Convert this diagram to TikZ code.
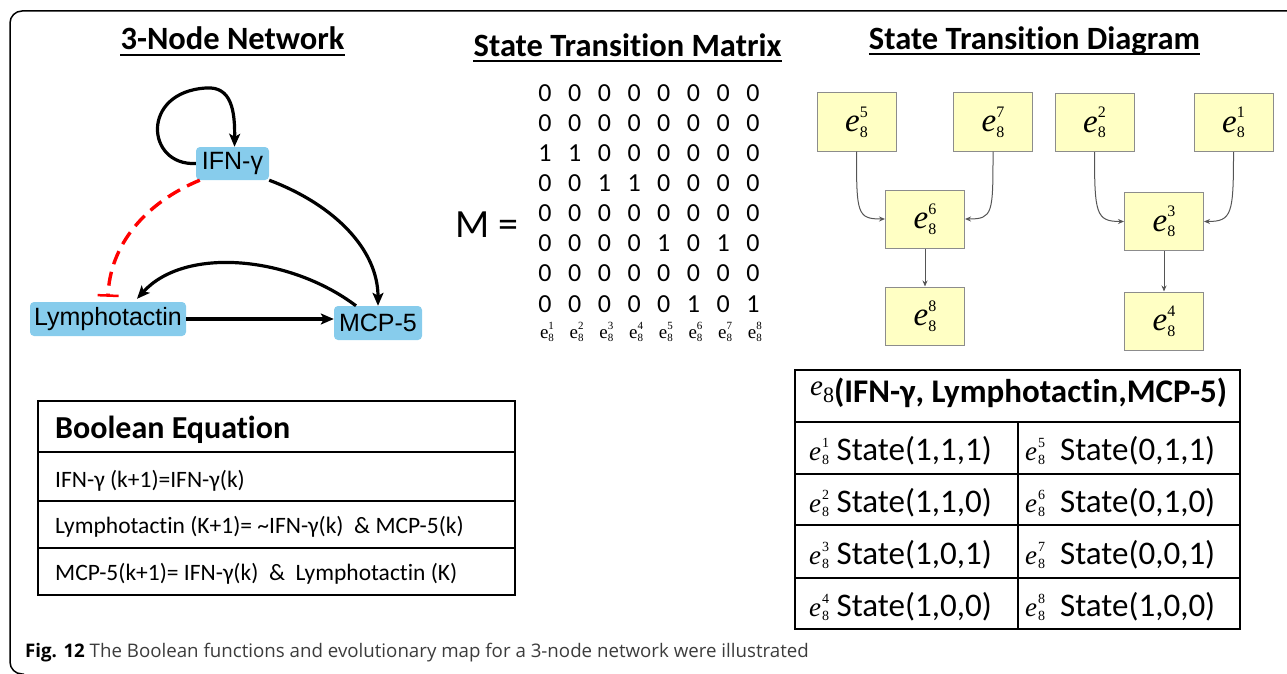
\documentclass[tikz,border=0pt]{standalone}
\usepackage{fontspec}
\setmainfont{Carlito}[Ligatures=NoCommon]
\newfontfamily\arialf{Liberation Sans}
\newfontfamily\timesf{Liberation Serif}
\newfontfamily\capf{Open Sans}
\usetikzlibrary{arrows.meta,calc}

\definecolor{netblue}{RGB}{135,204,236}
\definecolor{stfill}{RGB}{255,255,196}
\definecolor{stdraw}{RGB}{140,140,140}
\definecolor{stedge}{RGB}{85,85,85}
\definecolor{captext}{RGB}{60,60,60}

\newcommand\fs[1]{\fontsize{#1}{#1}\selectfont}
% state vector symbol e_8^k: #1 size of e, #2 size of indices, #3 upper index
\newcommand\ek[3]{{\fs{#1}\timesf\itshape e}\kern.03em{\fs{#2}\timesf\makebox[0pt][l]{\raisebox{.9em}{#3}}\raisebox{-.33em}{8}}}
% upright variant used under the matrix columns
\newcommand\eku[3]{{\fs{#1}\timesf e}{\fs{#2}\timesf\makebox[0pt][l]{\raisebox{.75em}{#3}}\raisebox{-.3em}{8}}}

\begin{document}
\begin{tikzpicture}[x=1pt,y=-1pt,
  netnode/.style={fill=netblue,rounded corners=4pt,inner sep=0pt,font=\fs{25}\arialf},
  netarrow/.style={line width=3.2pt,-{Stealth[length=13pt,width=11pt,inset=3pt]}},
  inhibit/.style={red,line width=3.4pt,dash pattern=on 14pt off 8pt,-{Bar[width=21pt,line width=2.5pt]}},
  title/.style={font=\fs{32.5}\bfseries,inner sep=0pt,anchor=base},
  uline/.style={line width=1.8pt},
  mcell/.style={font=\fs{26},inner sep=0pt},
  sbox/.style={draw=stdraw,fill=stfill,line width=1pt,minimum width=79pt,minimum height=58pt,inner sep=0pt},
  sarrow/.style={draw=stedge,line width=1pt,-{Stealth[length=6pt,width=5pt]}},
  tabline/.style={line width=1.8pt},
  eqtext/.style={font=\fs{23.5},inner sep=0pt,anchor=base west},
  celltext/.style={font=\fs{33},inner sep=0pt,anchor=base west},
]
\useasboundingbox (0,0) rectangle (1287,674);

% open frame
\draw[line width=1.5pt,rounded corners=12pt] (1287,11) -- (10,11) -- (10,674) -- (24,674);

% ---------- 3-node network ----------
\node[title] (t1) at (232.5,50) {3-Node Network};
\draw[uline] ($(t1.base west)+(0,5)$) -- ($(t1.base east)+(0,5)$);

\node[netnode,minimum width=73pt,minimum height=33pt] (ifn) at (232.5,163.5) {IFN-γ};
\node[netnode,minimum width=156pt,minimum height=34pt] (lym) at (108,319) {Lymphotactin};
\node[netnode,minimum width=88pt,minimum height=34pt] (mcp) at (378,323) {MCP-5};

\draw[netarrow] (ifn.west) .. controls (146,166) and (140,92) .. (206,88)
  .. controls (232,86) and (235,112) .. ($(ifn.north)+(2,0)$);
\draw[inhibit] ($(ifn.south west)+(4,0)$) .. controls (145,203) and (110,245) .. ($(lym.north)+(0,-5)$);
\draw[netarrow] (ifn.south east) .. controls (335,205) and (378,250) .. (mcp.north);
\draw[netarrow] ($(mcp.north)+(-22,0)$) .. controls (290,256) and (185,246) .. ($(lym.north)+(29,-3)$);
\draw[netarrow] (lym.east) -- (mcp.west |- lym.east);

% ---------- state transition matrix ----------
\node[title] (t2) at (627.5,57) {State Transition Matrix};
\draw[uline] ($(t2.base west)+(0,4)$) -- ($(t2.base east)+(0,4)$);

\node[font=\fs{40},inner sep=0pt] (M) at (487,225) {M =};
\foreach \row [count=\r] in {{0,0,0,0,0,0,0,0},{0,0,0,0,0,0,0,0},{1,1,0,0,0,0,0,0},{0,0,1,1,0,0,0,0},{0,0,0,0,0,0,0,0},{0,0,0,0,1,0,1,0},{0,0,0,0,0,0,0,0},{0,0,0,0,0,1,0,1}}{
  \foreach \v [count=\c] in \row {
    \node[mcell] (m\r-\c) at ({545+(\c-1)*29.7},{93+(\r-1)*30.1}) {\v};
  }
}
\foreach \k in {1,...,8}{
  \node[inner sep=0pt] (lab\k) at ({547+(\k-1)*29.7},332) {\eku{19}{11}{\k}};
}

% ---------- state transition diagram ----------
\node[title] (t3) at (1034.5,50) {State Transition Diagram};
\draw[uline] ($(t3.base west)+(0,4)$) -- ($(t3.base east)+(0,4)$);

\node[sbox] (s5) at (856.5,122) {\ek{33}{16}{5}};
\node[sbox] (s7) at (993,122) {\ek{33}{16}{7}};
\node[sbox] (s2) at (1094.5,122.5) {\ek{33}{16}{2}};
\node[sbox] (s1) at (1233.5,122.5) {\ek{33}{16}{1}};
\node[sbox] (s6) at (925,219) {\ek{33}{16}{6}};
\node[sbox] (s3) at (1164,221.5) {\ek{33}{16}{3}};
\node[sbox] (s8) at (925,316) {\ek{33}{16}{8}};
\node[sbox] (s4) at (1164,321) {\ek{33}{16}{4}};

\draw[sarrow] (s5.south) .. controls +(0,62) and +(-28,0) .. (s6.west);
\draw[sarrow] (s7.south) .. controls +(0,62) and +(28,0) .. (s6.east);
\draw[sarrow] (s6.south) -- (s8.north);
\draw[sarrow] (s2.south) .. controls +(0,62) and +(-28,0) .. (s3.west);
\draw[sarrow] (s1.south) .. controls +(0,62) and +(28,0) .. (s3.east);
\draw[sarrow] (s3.south) -- (s4.north);

% ---------- Boolean equation table ----------
\draw[tabline] (38,401) rectangle (515,595);
\draw[tabline] (38,452) -- (515,452);
\draw[tabline] (38,501) -- (515,501);
\draw[tabline] (38,548) -- (515,548);
\node[inner sep=0pt,anchor=base west,font=\fs{32}\bfseries] (beqh) at (55,438) {Boolean Equation};
\node[eqtext] (beq1) at (55,487) {IFN-γ (k+1)=IFN-γ(k)};
\node[eqtext] (beq2) at (55,533) {Lymphotactin (K+1)= \textasciitilde IFN-γ(k)\ \ \& MCP-5(k)};
\node[eqtext] (beq3) at (55,580) {MCP-5(k+1)= IFN-γ(k)\ \ \&\ \ Lymphotactin (K)};

% ---------- state coding table ----------
\draw[tabline] (795,370) rectangle (1240,629);
\foreach \yy in {422,474,525,578} \draw[tabline] (795,\yy) -- (1240,\yy);
\draw[tabline] (1018,422) -- (1018,629);

\node[inner sep=0pt,anchor=base west] (sth) at (810,402)
  {\raisebox{7pt}{\fs{29}\timesf\itshape e}{\fs{22}\timesf 8}{\fs{33}\bfseries(IFN-γ, Lymphotactin,MCP-5)}};

\node[celltext] (c1) at (809,460) {\ek{27}{14}{1} State(1,1,1)};
\node[celltext] (c2) at (809,512) {\ek{27}{14}{2} State(1,1,0)};
\node[celltext] (c3) at (809,564) {\ek{27}{14}{3} State(1,0,1)};
\node[celltext] (c4) at (809,616) {\ek{27}{14}{4} State(1,0,0)};
\node[celltext] (c5) at (1025,460) {\ek{27}{14}{5}\ \ State(0,1,1)};
\node[celltext] (c6) at (1025,512) {\ek{27}{14}{6}\ \ State(0,1,0)};
\node[celltext] (c7) at (1025,564) {\ek{27}{14}{7}\ \ State(0,0,1)};
\node[celltext] (c8) at (1025,616) {\ek{27}{14}{8}\ \ State(1,0,0)};

% ---------- caption ----------
\node[inner sep=0pt,anchor=base west,font=\fs{18.7}\capf,text=captext] (cap) at (25,657)
  {\textbf{\color{black}Fig. 12} The Boolean functions and evolutionary map for a 3-node network were illustrated};
\end{tikzpicture}
\end{document}
